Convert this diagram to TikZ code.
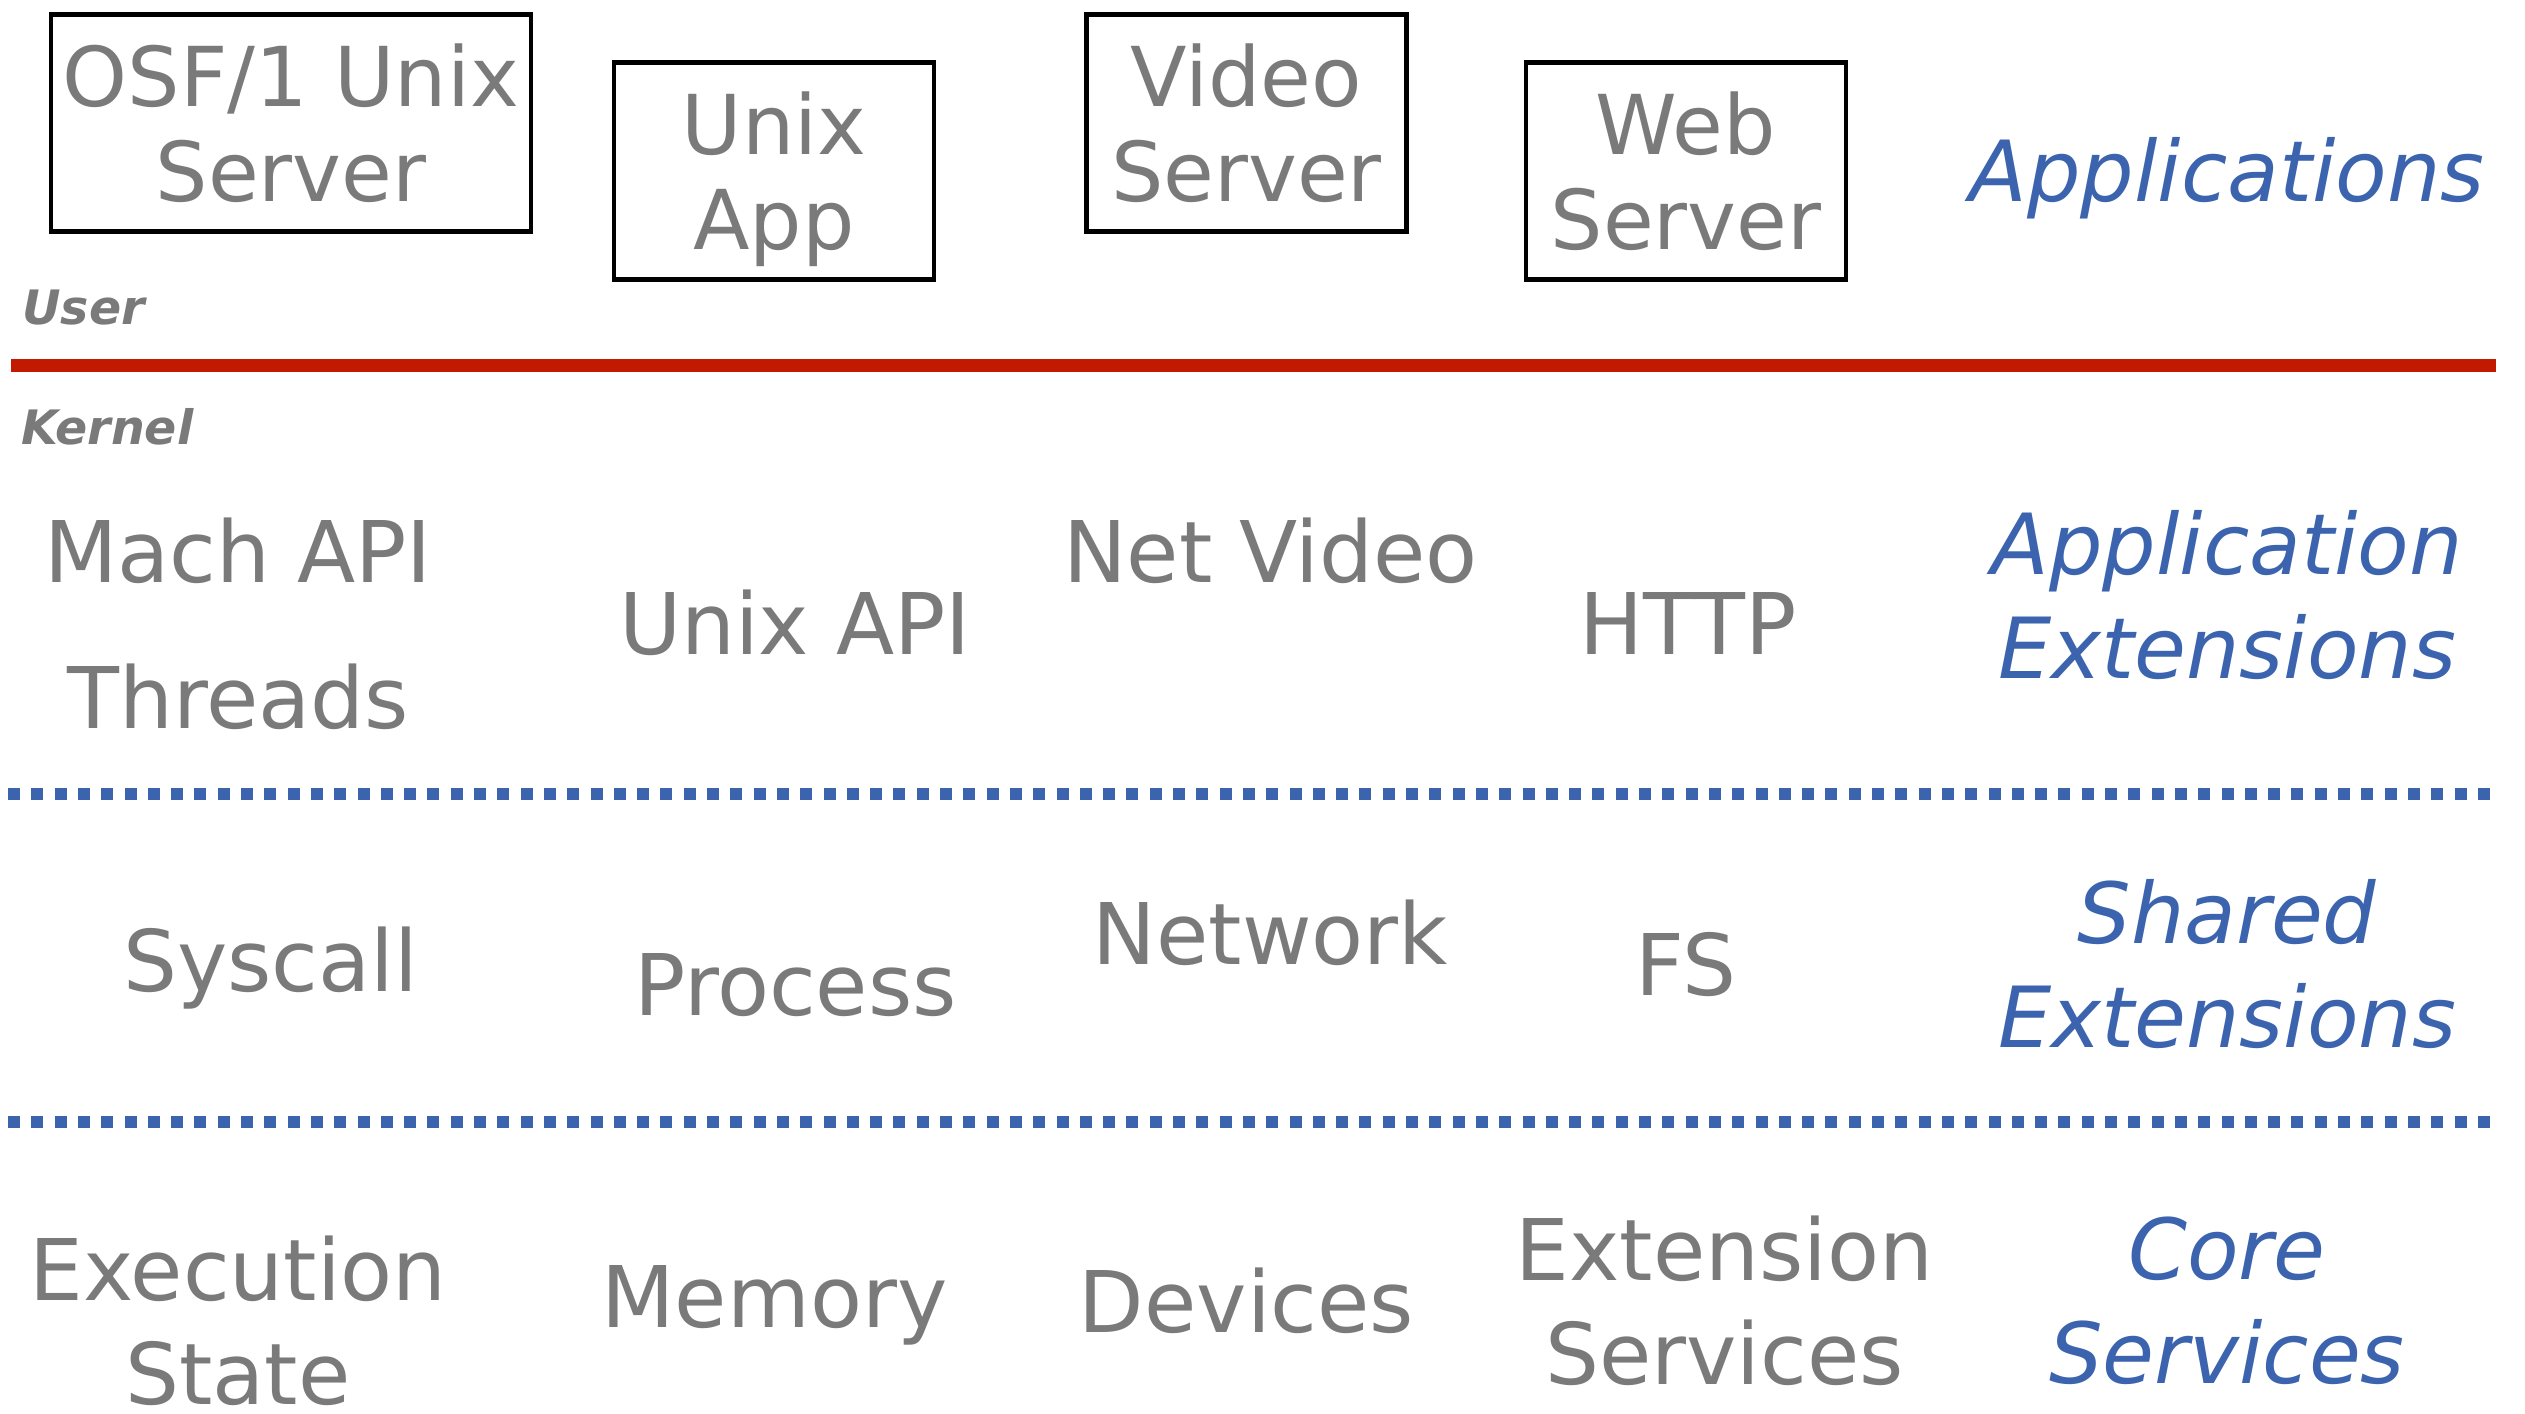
\documentclass[tikz,border=0pt]{standalone}
\usepackage{fontspec}
\setmainfont{DejaVu Sans}

\definecolor{labelgray}{RGB}{122,122,122}
\definecolor{layerblue}{RGB}{60,100,174}
\definecolor{bordered}{RGB}{194,26,0}

\begin{document}
\begin{tikzpicture}[
    every node/.style={font=\fontsize{24.2}{29.5}\selectfont, text=labelgray, align=center},
    appbox/.style={draw=black, line width=1.4pt, inner sep=0pt, minimum height=2.17cm,
        text depth=0pt, font=\fontsize{23.5}{27}\selectfont},
    layer/.style={text=layerblue, font=\fontsize{24}{29.5}\selectfont\itshape},
    side/.style={anchor=west, font=\fontsize{13.5}{16}\selectfont\bfseries\itshape},
    sepline/.style={draw=layerblue, line width=0.12cm, dash pattern=on 0.12cm off 0.113cm}]
    % Page size
    \useasboundingbox (0,0) rectangle (25.25,-14.14);

    % User space programs
    \node[appbox, minimum width=4.8cm] (osf) at (2.91,-1.23) {OSF/1 Unix\\Server};
    \node[appbox, minimum width=3.2cm] (uapp) at (7.74,-1.71) {Unix\\App};
    \node[appbox, minimum width=3.2cm] (vsrv) at (12.465,-1.23) {Video\\Server};
    \node[appbox, minimum width=3.2cm] (wsrv) at (16.86,-1.71) {Web\\Server};
    \node[layer] (apps) at (22.27,-1.78) {Applications};

    % User/kernel boundary
    \node[side] (user) at (0.1,-3.08) {User};
    \coordinate (ukl) at (0.11,-3.655);
    \coordinate (ukr) at (24.96,-3.655);
    \draw[draw=bordered, line width=0.13cm] (ukl) -- (ukr);
    \node[side] (kernel) at (0.09,-4.27) {Kernel};

    % Application extensions
    \node (mach) at (2.38,-5.51) {Mach API};
    \node (threads) at (2.38,-6.97) {Threads};
    \node (uapi) at (7.95,-6.23) {Unix API};
    \node (netvid) at (12.705,-5.51) {Net Video};
    \node (http) at (16.88,-6.23) {HTTP};
    \node[layer] (appext) at (22.27,-5.95) {Application\\Extensions};

    \coordinate (sal) at (0.08,-7.94);
    \coordinate (sar) at (24.96,-7.94);
    \draw[sepline] (sal) -- (sar);

    % Shared extensions
    \node (syscall) at (2.705,-9.68) {Syscall};
    \node (process) at (7.955,-9.85) {Process};
    \node (network) at (12.705,-9.33) {Network};
    \node (fs) at (16.86,-9.646) {FS};
    \node[layer] (shext) at (22.27,-9.64) {Shared\\Extensions};

    \coordinate (scl) at (0.08,-11.22);
    \coordinate (scr) at (24.96,-11.22);
    \draw[sepline] (scl) -- (scr);

    % Core services
    \node[inner sep=0pt, text depth=0pt] (exec) at (2.38,-13.2) {Execution\\State};
    \node (mem) at (7.745,-13.05) {Memory};
    \node (dev) at (12.465,-13.01) {Devices};
    \node (extsvc) at (17.245,-13.01) {Extension\\Services};
    \node[layer] (core) at (22.27,-13.01) {Core\\Services};
\end{tikzpicture}
\end{document}
